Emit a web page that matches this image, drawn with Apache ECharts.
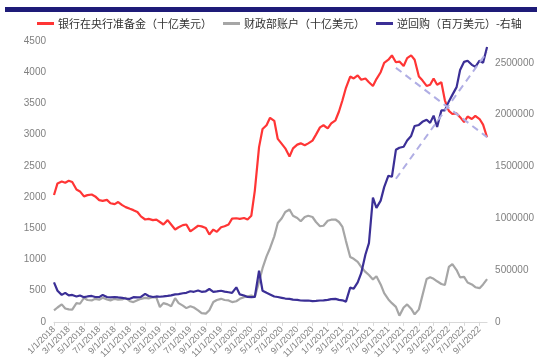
<!DOCTYPE html>
<html>
<head>
<meta charset="utf-8">
<script src="https://cdn.jsdelivr.net/npm/echarts@6/dist/echarts.min.js"></script>
<style>
  html, body { margin: 0; padding: 0; background: #fff; }
  #chart { width: 537px; height: 361px; }
</style>
</head>
<body>
<div id="chart"></div>
<script>
// Series names shown in the legend
const seriesNames = ['银行在央行准备金（十亿美元）', '财政部账户（十亿美元）', '逆回购（百万美元）-右轴'];

// Axis range: daily calendar from 2018-01-01 to 2022-10-01
const axisStart = [2018, 1, 1];
const axisEnd = [2022, 10, 1];

// Observations on the 1st and 15th of each month, 2018-01-01 .. 2022-10-01
// Bank reserves held at the Fed (billion USD), left axis
const reserves = [
  2033, 2218, 2250, 2230, 2260, 2240, 2120, 2090, 2010, 2030, 2040, 2010, 1950, 1938, 1954, 1900, 1886, 1920, 1870, 1838, 1811, 1790, 1760, 1690,
  1640, 1650, 1630, 1637, 1600, 1560, 1630, 1560, 1480, 1515, 1550, 1560, 1450, 1490, 1540, 1530, 1505, 1400, 1479, 1442, 1516, 1532, 1560, 1653,
  1660, 1650, 1664, 1640, 1700, 2100, 2800, 3090, 3150, 3270, 3221, 2931, 2852, 2780, 2650, 2780, 2840, 2860, 2830, 2860, 2904, 3000, 3116, 3150,
  3100, 3180, 3230, 3370, 3550, 3750, 3930, 3900, 3950, 3880, 3900, 3840, 3780, 3890, 4000, 4150, 4200, 4270, 4160, 4170, 4100, 4226, 4270, 4200,
  3930, 3870, 3780, 3800, 3900, 3800, 3840, 3550, 3380, 3330, 3340, 3280, 3200, 3290, 3250, 3300, 3250, 3160, 2958
];
// Treasury General Account (billion USD), left axis
const treasury = [
  185, 230, 280, 215, 200, 195, 300, 290, 385, 350, 344, 369, 355, 385, 360, 344, 369, 355, 360, 385, 330, 317, 345, 369,
  385, 375, 396, 390, 238, 300, 280, 250, 380, 300, 260, 220, 250, 230, 185, 140, 132, 185, 317, 350, 369, 350, 344, 317,
  330, 369, 396, 410, 423, 400, 640, 860, 1050, 1180, 1370, 1585, 1660, 1760, 1800, 1700, 1664, 1611, 1680, 1700, 1680, 1600, 1532, 1540,
  1620, 1637, 1640, 1600, 1520, 1294, 1040, 1010, 960, 880, 800, 750, 680, 730, 600, 460, 360, 300, 240, 100, 230, 280, 211, 120,
  200, 420, 686, 713, 690, 650, 607, 590, 880, 924, 830, 713, 720, 630, 600, 555, 540, 600, 686
];
// Overnight reverse repo (million USD), right axis
const reverseRepo = [
  381000, 300000, 260000, 280000, 255000, 260000, 245000, 255000, 238000, 245000, 250000, 240000, 238000, 260000, 240000, 236000, 240000, 236000, 232000, 225000, 222000, 238000, 236000, 240000,
  270000, 250000, 240000, 245000, 242000, 245000, 250000, 255000, 265000, 268000, 276000, 280000, 295000, 290000, 302000, 290000, 295000, 317000, 290000, 294000, 300000, 292000, 286000, 280000,
  333000, 265000, 254000, 240000, 238000, 240000, 493000, 300000, 280000, 265000, 245000, 240000, 232000, 225000, 222000, 215000, 212000, 206000, 205000, 206000, 200000, 202000, 206000, 208000,
  212000, 220000, 222000, 212000, 208000, 195000, 330000, 320000, 381000, 470000, 650000, 760000, 1200000, 1100000, 1170000, 1300000, 1410000, 1400000, 1660000, 1680000, 1690000, 1750000, 1794000, 1890000,
  1900000, 1930000, 1950000, 1920000, 1990000, 1880000, 2040000, 2040000, 2127000, 2190000, 2265000, 2430000, 2509000, 2520000, 2480000, 2461000, 2520000, 2500000, 2652000
];

// Dashed trend guides: [date, value]
const reservesTrend = [['2021-10-01', 4070], ['2022-10-01', 2960]];
const repoTrend = [['2021-10-01', 1381000], ['2022-10-01', 2604000]];

// Value axis ranges and tick steps
const leftAxis = { min: 0, max: 4500, step: 500 };
const rightAxis = { min: 0, max: 2710000, step: 500000 };

const DAY = 86400000;
const t0 = Date.UTC(axisStart[0], axisStart[1] - 1, axisStart[2]);
const t1 = Date.UTC(axisEnd[0], axisEnd[1] - 1, axisEnd[2]);

// Daily category labels in M/D/YYYY form
const categories = [];
for (let t = t0; t <= t1; t += DAY) {
  const d = new Date(t);
  categories.push((d.getUTCMonth() + 1) + '/' + d.getUTCDate() + '/' + d.getUTCFullYear());
}

function dayIndex(iso) {
  const p = iso.split('-').map(Number);
  return Math.round((Date.UTC(p[0], p[1] - 1, p[2]) - t0) / DAY);
}

// Observation dates: 1st and 15th of each month up to the axis end
const obsDates = [];
for (let y = axisStart[0]; y <= axisEnd[0]; y++) {
  for (let m = 1; m <= 12; m++) {
    for (const d of [1, 15]) {
      const t = Date.UTC(y, m - 1, d);
      if (t >= t0 && t <= t1) obsDates.push(Math.round((t - t0) / DAY));
    }
  }
}

const pair = (vals) => vals.map((v, i) => [obsDates[i], v]);
const trendPair = (pts) => pts.map(p => [dayIndex(p[0]), p[1]]);

// Labels every other month, on the 1st
function bimonthly(index, value) {
  const parts = String(value).split('/');
  return parts[1] === '1' && (Number(parts[0]) % 2 === 1);
}

const plain = (v) => String(v);
const labelColor = '#808080';
const fontFamily = '"Liberation Sans", Arial, sans-serif';
const cjkFont = '"Noto Sans CJK SC", "Noto Sans", sans-serif';

const chart = echarts.init(document.getElementById('chart'), null, { renderer: 'canvas' });

chart.setOption({
  animation: false,
  backgroundColor: '#ffffff',
  graphic: [{
    type: 'rect',
    shape: { x: 5, y: 7, width: 532, height: 5 },
    style: { fill: '#1e1b78' },
    silent: true
  }],
  legend: {
    data: seriesNames,
    left: 32,
    top: 13,
    icon: 'rect',
    itemWidth: 17,
    itemHeight: 3,
    itemGap: 11,
    textStyle: { fontSize: 11, color: '#333', fontFamily: cjkFont, padding: [0, 0, 0, -1] }
  },
  grid: { left: 54, right: 36.4, top: 41, bottom: 36 },
  xAxis: {
    type: 'category',
    data: categories,
    boundaryGap: false,
    axisLine: { lineStyle: { color: '#d9d9d9', width: 1 } },
    axisTick: { show: true, interval: bimonthly, length: 4, lineStyle: { color: '#d9d9d9' } },
    axisLabel: {
      interval: bimonthly,
      rotate: 45,
      fontSize: 9,
      color: labelColor,
      fontFamily: fontFamily,
      margin: 6,
      hideOverlap: false
    },
    splitLine: { show: false }
  },
  yAxis: [{
    type: 'value',
    min: leftAxis.min,
    max: leftAxis.max,
    interval: leftAxis.step,
    axisLine: { show: false },
    axisTick: { show: false },
    splitLine: { show: false },
    axisLabel: { fontSize: 10, color: labelColor, fontFamily: fontFamily, margin: 8, formatter: plain }
  }, {
    type: 'value',
    min: rightAxis.min,
    max: rightAxis.max,
    interval: rightAxis.step,
    axisLine: { show: false },
    axisTick: { show: false },
    splitLine: { show: false },
    axisLabel: { fontSize: 10, color: labelColor, fontFamily: fontFamily, margin: 8, showMaxLabel: false, formatter: plain }
  }],
  series: [{
    name: seriesNames[0],
    type: 'line',
    yAxisIndex: 0,
    data: pair(reserves),
    showSymbol: false,
    color: '#ff3535',
    lineStyle: { width: 2.2, color: '#ff3535' },
    z: 3
  }, {
    name: seriesNames[1],
    type: 'line',
    yAxisIndex: 0,
    data: pair(treasury),
    showSymbol: false,
    color: '#a6a6a6',
    lineStyle: { width: 2.2, color: '#a6a6a6' },
    z: 2
  }, {
    name: seriesNames[2],
    type: 'line',
    yAxisIndex: 1,
    data: pair(reverseRepo),
    showSymbol: false,
    color: '#3b2f96',
    lineStyle: { width: 2.2, color: '#3b2f96' },
    z: 4
  }, {
    name: 'reservesTrend',
    type: 'line',
    yAxisIndex: 0,
    data: trendPair(reservesTrend),
    showSymbol: false,
    lineStyle: { width: 2, color: '#b0aee4', type: [7, 5] },
    z: 5
  }, {
    name: 'repoTrend',
    type: 'line',
    yAxisIndex: 1,
    data: trendPair(repoTrend),
    showSymbol: false,
    lineStyle: { width: 2, color: '#b0aee4', type: [7, 5] },
    z: 5
  }]
});
</script>
</body>
</html>
